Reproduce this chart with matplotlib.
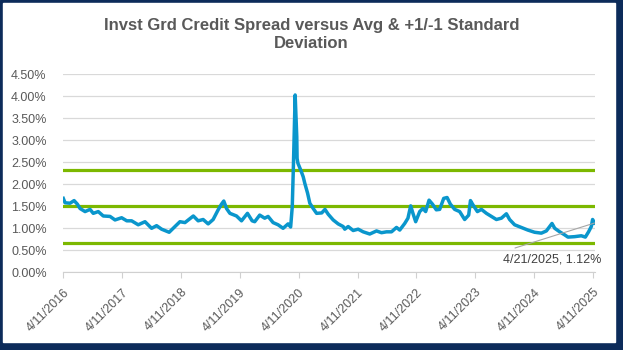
import matplotlib
matplotlib.use('Agg')
import matplotlib.pyplot as plt
import matplotlib.patches as patches
import pandas as pd

plt.rcParams['font.family'] = ['Liberation Sans', 'DejaVu Sans']

# spread (percent)
dates = [
    '2016-04-11', '2016-04-22', '2016-05-23', '2016-06-17', '2016-07-07', '2016-07-24',
    '2016-08-24', '2016-09-24', '2016-10-14', '2016-11-14', '2016-12-15', '2017-01-26',
    '2017-02-26', '2017-04-08', '2017-05-10', '2017-06-09', '2017-07-20', '2017-08-31',
    '2017-10-11', '2017-11-11', '2017-12-12', '2018-01-28', '2018-03-05', '2018-04-05',
    '2018-05-06', '2018-06-27', '2018-07-27', '2018-08-27', '2018-09-27', '2018-10-28',
    '2018-11-28', '2018-12-19', '2019-01-02', '2019-01-19', '2019-02-09', '2019-03-22',
    '2019-04-22', '2019-05-29', '2019-06-27', '2019-07-13', '2019-08-13', '2019-09-13',
    '2019-10-04', '2019-11-04', '2019-12-05', '2020-01-05', '2020-02-05', '2020-02-21',
    '2020-03-02', '2020-03-09', '2020-03-20', '2020-03-26', '2020-03-30', '2020-04-01',
    '2020-04-06', '2020-04-24', '2020-05-09', '2020-05-19', '2020-06-05', '2020-06-19',
    '2020-07-10', '2020-07-31', '2020-09-01', '2020-09-21', '2020-10-11', '2020-11-11',
    '2020-12-12', '2021-01-12', '2021-01-22', '2021-02-12', '2021-03-15', '2021-04-15',
    '2021-05-16', '2021-06-26', '2021-08-07', '2021-09-07', '2021-10-08', '2021-11-08',
    '2021-12-09', '2021-12-29', '2022-01-29', '2022-02-18', '2022-03-07', '2022-03-21',
    '2022-04-07', '2022-05-02', '2022-05-22', '2022-06-08', '2022-06-29', '2022-07-20',
    '2022-08-13', '2022-09-03', '2022-09-28', '2022-10-19', '2022-11-08', '2022-12-05',
    '2023-01-05', '2023-02-05', '2023-03-02', '2023-03-13', '2023-03-29', '2023-04-25',
    '2023-05-20', '2023-06-20', '2023-07-21', '2023-08-21', '2023-09-21', '2023-10-22',
    '2023-11-11', '2023-12-12', '2024-01-22', '2024-03-03', '2024-04-14', '2024-05-26',
    '2024-06-26', '2024-07-31', '2024-08-17', '2024-09-17', '2024-10-18', '2024-11-07',
    '2024-12-18', '2025-01-29', '2025-02-23', '2025-03-15', '2025-04-01', '2025-04-09',
    '2025-04-21',
]
spread = [
    1.68, 1.58, 1.57, 1.63, 1.55, 1.45,
    1.38, 1.43, 1.34, 1.38, 1.28, 1.27,
    1.19, 1.24, 1.17, 1.17, 1.08, 1.15,
    1.00, 1.06, 0.98, 0.91, 1.04, 1.15,
    1.13, 1.28, 1.17, 1.20, 1.10, 1.20,
    1.42, 1.55, 1.62, 1.45, 1.34, 1.28,
    1.17, 1.34, 1.17, 1.15, 1.30, 1.23,
    1.27, 1.13, 1.08, 1.00, 1.10, 1.03,
    1.49, 2.40, 4.03, 3.46, 3.08, 2.59,
    2.48, 2.32, 2.17, 2.02, 1.80, 1.57,
    1.45, 1.34, 1.35, 1.43, 1.32, 1.19,
    1.10, 1.04, 0.98, 1.04, 0.95, 0.98,
    0.92, 0.87, 0.94, 0.90, 0.92, 0.92,
    1.02, 0.96, 1.11, 1.23, 1.51, 1.34,
    1.15, 1.38, 1.45, 1.38, 1.64, 1.55,
    1.42, 1.43, 1.68, 1.70, 1.55, 1.43,
    1.38, 1.20, 1.30, 1.63, 1.53, 1.38,
    1.43, 1.34, 1.27, 1.20, 1.23, 1.33,
    1.20, 1.08, 1.02, 0.96, 0.91, 0.89,
    0.94, 1.11, 1.00, 0.92, 0.85, 0.80,
    0.81, 0.83, 0.80, 0.92, 1.04, 1.20,
    1.12,
]

avg = 1.50
plus_sd = 2.32
minus_sd = 0.67

tick_dates = ['2016-04-11', '2017-04-11', '2018-04-11', '2019-04-11', '2020-04-11',
              '2021-04-11', '2022-04-11', '2023-04-11', '2024-04-11', '2025-04-11']
tick_labels = ['4/11/2016', '4/11/2017', '4/11/2018', '4/11/2019', '4/11/2020',
               '4/11/2021', '4/11/2022', '4/11/2023', '4/11/2024', '4/11/2025']

x = pd.to_datetime(dates)

fig = plt.figure(figsize=(6.23, 3.5), dpi=100)

# navy frame round the chart
fig.patches.append(patches.Rectangle((0, 0), 1, 1, transform=fig.transFigure,
                                     color='#0C2B5A', zorder=-2))
fig.patches.append(patches.Rectangle((3 / 623, 8 / 350), 612 / 623, 339 / 350,
                                     transform=fig.transFigure, color='white', zorder=-1))

ax = fig.add_axes([0.1016, 0.222, 0.8527, 0.5657])
ax.set_facecolor('none')

ax.axhline(plus_sd, color='#7CB800', lw=2.3, zorder=2)
ax.axhline(avg, color='#7CB800', lw=2.3, zorder=2)
ax.axhline(minus_sd, color='#7CB800', lw=2.3, zorder=2)
ax.plot(x, spread, color='#0A96CC', lw=2.5, zorder=3, solid_joinstyle='round')

ax.set_xlim(x[0], x[-1])
ax.set_ylim(0, 4.5)
ax.set_yticks([i * 0.5 for i in range(10)])
ax.set_yticklabels([f'{i * 0.5:.2f}%' for i in range(10)])
ax.set_xticks(pd.to_datetime(tick_dates))
ax.set_xticklabels(tick_labels, rotation=45, ha='right', va='top', rotation_mode='anchor')

ax.grid(axis='y', color='#D9D9D9', lw=0.9)
ax.set_axisbelow(True)
for s in ['top', 'right', 'left']:
    ax.spines[s].set_visible(False)
ax.spines['bottom'].set_color('#D0D0D0')
ax.tick_params(axis='y', length=0, pad=12, labelsize=9, labelcolor='#595959')
ax.tick_params(axis='x', length=4, color='#D0D0D0', pad=6, labelsize=9, labelcolor='#595959')

# last value label with leader line
ax.annotate('', xy=(x[-1], spread[-1]), xytext=(515, 102), textcoords='figure pixels',
            arrowprops=dict(arrowstyle='-', color='#A6A6A6', lw=0.8, shrinkA=0, shrinkB=0))
fig.text(601 / 623, 91 / 350, '4/21/2025, 1.12%', ha='right', va='center',
         fontsize=9, color='#404040')

fig.text(0.5, 0.902, 'Invst Grd Credit Spread versus Avg & +1/-1 Standard\nDeviation',
         ha='center', va='center', fontsize=12, fontweight='bold', color='#595959',
         linespacing=1.25)

fig.savefig('out.png', dpi=100)
